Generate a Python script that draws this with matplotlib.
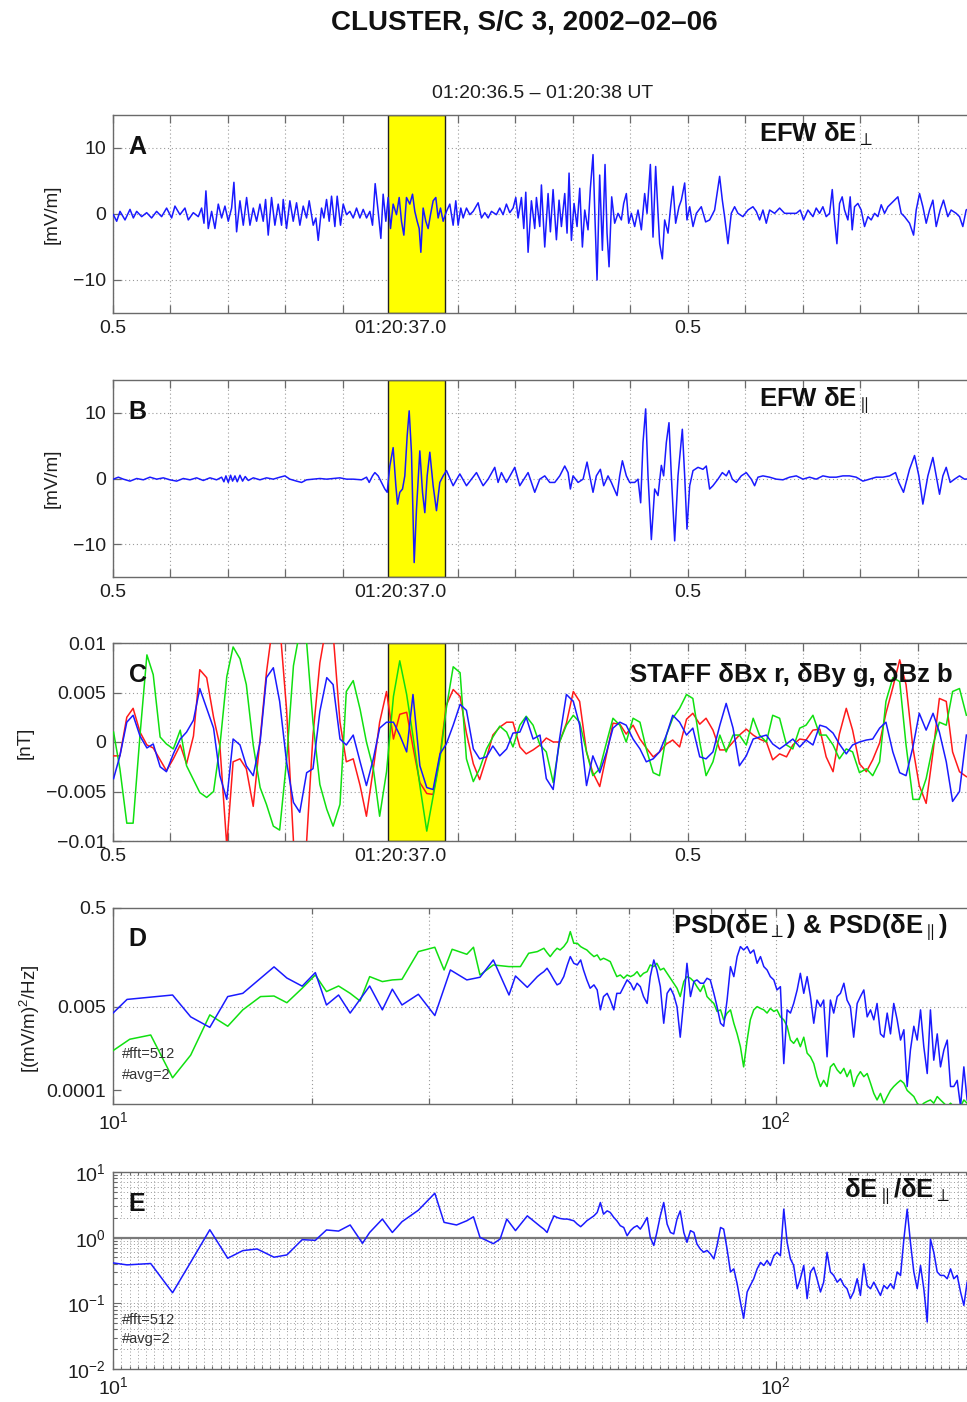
import numpy as np
import matplotlib
matplotlib.use("Agg")
import matplotlib.pyplot as plt
from matplotlib.ticker import FixedLocator, FixedFormatter, NullFormatter, NullLocator, LogLocator

plt.rcParams['font.family'] = ['Liberation Sans', 'DejaVu Sans']
plt.rcParams['mathtext.fontset'] = 'custom'
plt.rcParams['mathtext.rm'] = 'Liberation Sans'
plt.rcParams['mathtext.it'] = 'Liberation Sans:italic'
plt.rcParams['mathtext.bf'] = 'Liberation Sans:bold'
plt.rcParams['mathtext.sf'] = 'Liberation Sans'
plt.rcParams['axes.unicode_minus'] = True

# ------------------------------------------------------------------ data
# Panel A: EFW dE_perp  (time in ms after 01:20:36.5, mV/m)
eperp_ms = [0.6, 6.4, 12.2, 20.9, 29.6, 35.4, 41.2, 49.9, 58.6, 67.2,
            75.9, 84.6, 93.3, 102.0, 107.8, 116.5, 125.2, 131.0, 139.7, 148.4,
            154.2, 158.3, 161.7, 165.8, 171.6, 177.4, 183.2, 189.0, 194.8, 200.6,
            206.4, 210.4, 215.1, 220.9, 226.7, 232.5, 238.3, 244.1, 249.9, 255.7,
            261.4, 265.5, 270.1, 275.9, 281.7, 287.5, 293.3, 296.2, 302.0, 307.8,
            313.6, 319.4, 325.2, 331.0, 336.8, 341.4, 348.4, 353.0, 357.1, 362.9,
            367.0, 371.6, 376.2, 380.3, 386.1, 390.1, 395.9, 400.6, 406.4, 412.2,
            418.0, 423.8, 429.6, 435.4, 441.2, 447.0, 451.6, 456.2, 461.4, 466.1,
            470.1, 474.8, 478.8, 482.9, 487.5, 493.3, 498.0, 502.0, 506.1, 510.7,
            516.5, 521.2, 525.2, 529.3, 532.8, 535.7, 539.7, 544.3, 548.4, 552.5,
            557.1, 561.7, 565.8, 569.9, 574.5, 580.3, 586.1, 591.9, 596.5, 600.6,
            605.2, 609.3, 615.1, 620.9, 626.7, 635.4, 641.2, 647.0, 652.8, 658.6,
            667.2, 673.0, 678.8, 684.6, 690.4, 696.2, 700.9, 704.9, 710.7, 714.8,
            718.3, 722.3, 728.1, 733.9, 736.8, 742.6, 745.5, 751.3, 757.1, 761.1,
            765.8, 771.6, 776.2, 780.3, 786.1, 790.1, 793.6, 797.7, 802.3, 807.5,
            812.2, 816.8, 820.9, 826.6, 830.7, 835.3, 838.8, 842.3, 846.9, 851.6,
            856.2, 859.7, 863.2, 867.8, 873.0, 878.8, 884.6, 888.7, 893.3, 897.4,
            902.0, 907.8, 913.6, 919.4, 925.2, 929.3, 935.1, 939.7, 944.3, 948.4,
            951.3, 955.9, 960.0, 965.8, 970.4, 974.5, 979.1, 984.9, 989.0, 994.8,
            998.8, 1003.5, 1009.3, 1015.1, 1023.7, 1031.3, 1038.2, 1046.9, 1055.6, 1060.3,
            1064.3, 1070.1, 1075.9, 1081.7, 1087.5, 1096.2, 1104.9, 1113.6, 1119.4, 1125.2,
            1131.0, 1136.8, 1142.6, 1151.3, 1160.0, 1168.7, 1177.4, 1189.0, 1195.9, 1201.7,
            1209.3, 1218.0, 1223.7, 1229.5, 1235.3, 1241.1, 1246.9, 1251.6, 1255.6, 1259.7,
            1264.3, 1268.9, 1273.0, 1278.8, 1282.8, 1286.3, 1290.4, 1296.2, 1302.0, 1307.8,
            1313.6, 1319.4, 1325.2, 1331.0, 1336.8, 1342.6, 1348.4, 1354.2, 1360.0, 1365.8,
            1371.6, 1377.4, 1386.1, 1393.1, 1397.7, 1403.5, 1409.3, 1415.1, 1420.9, 1426.7,
            1432.5, 1439.4, 1445.2, 1452.7, 1458.5, 1467.2, 1473.0, 1478.8, 1484.6, 1492.0,
            1500.0]
eperp_mvm = [-0.1, -1.1, 0.4, -0.9, 0.7, -0.6, 0.4, -0.4, 0.2, -0.6,
             0.4, -0.4, 0.9, -0.6, 1.2, -0.1, 0.9, -0.9, 0.2, -0.4,
             0.9, -1.4, 3.5, -2.2, 0.4, -2.2, 1.5, -0.6, 1.2, -1.1,
             0.9, 4.8, -2.7, 2.0, -1.7, 2.5, -1.7, 0.9, -1.1, 1.5,
             -1.1, 2.2, -3.2, 2.5, -1.7, 1.5, -1.7, 2.2, -2.2, 2.0,
             -1.1, 1.7, -1.7, 1.2, -0.6, 2.0, -1.7, -0.6, -4.0, 0.9,
             -0.6, 2.2, -1.1, 2.7, -1.9, 2.7, -1.7, 1.5, -0.1, 0.4,
             -0.6, 0.9, -0.6, 0.7, -0.6, 0.4, -1.7, 4.6, 0.4, -3.7,
             3.0, -1.1, 2.5, -2.2, 1.5, -0.1, 2.5, -1.1, -3.2, 2.5,
             1.5, 3.0, 0.4, -1.1, -2.2, -5.8, 0.9, -1.1, -2.2, -0.1,
             2.0, 2.5, -0.6, 0.9, -1.1, 0.4, 1.5, -1.7, 2.0, -1.7,
             0.9, -0.6, 0.9, -0.1, 0.4, 1.7, -0.6, 0.2, -0.6, 0.4,
             -0.1, 0.9, -0.1, 1.5, 0.2, 0.9, 2.5, -0.6, 2.5, -2.2,
             3.3, -5.8, 2.0, -2.2, 2.5, -1.9, 4.4, -5.0, 3.1, -2.7,
             3.7, -3.9, 2.1, -1.9, 3.1, -2.9, 6.2, -4.0, 1.6, -1.9,
             3.9, -5.0, 0.6, -2.4, 3.9, 9.0, -0.9, -10.0, 5.9, -5.5,
             7.5, -2.9, -8.0, 2.6, -1.4, 0.1, -0.9, 1.6, 3.1, -1.4,
             0.1, -1.9, 0.6, -2.4, 3.1, 0.1, 7.5, -3.5, 7.2, 0.1,
             -4.5, -6.8, -0.9, -2.9, 1.1, 4.2, -1.4, 1.1, 2.1, 4.7,
             -0.9, 1.1, -1.9, 0.1, 1.1, -1.2, -0.9, 0.6, 5.7, 2.1,
             -0.4, -4.5, 0.1, 1.1, 0.1, -0.4, 0.6, 1.1, 0.4, -0.9,
             0.6, -1.4, 0.6, 0.1, 0.9, 0.1, 0.1, 0.1, 0.6, -0.9,
             0.6, -0.4, 0.9, 0.1, 1.1, -0.4, 0.1, 3.7, -0.9, -4.5,
             1.6, 2.6, 0.6, -0.9, 2.6, -2.4, 1.1, 1.6, 0.6, -1.9,
             -0.4, -0.9, 0.1, -0.4, 1.4, 0.1, 1.1, 1.6, 2.1, 2.6,
             0.1, -0.4, -1.4, -3.2, 0.6, 3.1, 1.1, -1.4, 0.6, 2.1,
             -1.9, 0.6, 2.1, -0.4, 0.6, 0.1, -0.4, -1.9, 0.6, 1.0,
             0.0]

# Panel B: EFW dE_parallel (ms, mV/m)
epar_ms = [0.6, 9.3, 18.0, 29.6, 41.2, 52.8, 64.3, 75.9, 87.5, 99.1,
           110.7, 122.3, 133.9, 145.5, 157.1, 168.7, 180.3, 189.0, 193.0, 196.5,
           200.6, 204.6, 208.1, 212.2, 216.2, 220.9, 225.5, 230.1, 235.4, 244.1,
           255.7, 267.2, 278.8, 290.4, 299.1, 307.8, 319.4, 328.1, 336.8, 348.4,
           360.0, 371.6, 383.2, 394.8, 406.4, 418.0, 432.5, 441.2, 445.8, 451.6,
           455.7, 461.4, 467.2, 473.0, 477.1, 481.7, 487.5, 492.2, 495.1, 499.1,
           503.8, 507.8, 511.9, 515.4, 519.4, 524.1, 528.1, 533.9, 538.6, 542.6,
           546.7, 551.3, 557.1, 562.9, 568.7, 574.5, 580.3, 591.9, 603.5, 615.1,
           632.5, 644.1, 652.8, 664.3, 670.1, 675.9, 684.6, 699.1, 707.8, 722.3,
           733.9, 742.6, 751.3, 760.0, 768.7, 777.4, 786.1, 791.9, 795.9, 800.6,
           809.3, 818.0, 824.9, 829.5, 835.3, 841.1, 848.1, 853.9, 861.4, 867.2,
           877.1, 881.7, 886.4, 893.3, 899.1, 907.8, 913.6, 918.2, 922.3, 926.9,
           931.0, 936.8, 942.6, 948.4, 954.2, 958.2, 962.9, 967.5, 971.6, 977.4,
           983.2, 990.7, 994.8, 998.8, 1003.5, 1009.3, 1018.0, 1026.6, 1032.4, 1038.2,
           1044.0, 1052.7, 1060.3, 1067.2, 1071.9, 1077.7, 1084.6, 1093.3, 1102.0, 1110.7,
           1116.5, 1122.3, 1131.0, 1142.6, 1154.2, 1165.8, 1177.4, 1189.0, 1200.6, 1212.1,
           1223.7, 1235.3, 1246.9, 1258.5, 1270.1, 1281.7, 1293.3, 1304.9, 1316.5, 1328.1,
           1339.7, 1351.3, 1361.7, 1367.5, 1375.6, 1386.1, 1394.8, 1402.3, 1409.3, 1418.0,
           1426.7, 1432.5, 1438.3, 1444.1, 1449.9, 1456.8, 1464.4, 1473.0, 1481.7, 1500.0]
epar_mvm = [-0.1, 0.2, -0.1, -0.4, 0.0, -0.2, 0.2, -0.1, 0.1, -0.2,
            -0.4, 0.0, -0.2, 0.1, -0.3, 0.1, -0.2, 0.2, -0.5, 0.4,
            -0.6, 0.5, -0.4, 0.4, -0.5, 0.5, -0.4, 0.3, -0.3, 0.1,
            -0.2, 0.1, -0.1, 0.2, 0.4, -0.1, -0.4, -0.6, -0.2, -0.1,
            0.0, -0.1, 0.0, 0.1, -0.1, -0.1, -0.2, 0.2, -0.6, 0.4,
            0.9, 0.4, -0.6, -1.6, -2.1, 1.9, 4.7, -1.1, -3.9, -2.1,
            -1.6, 0.4, 6.5, 10.3, 3.9, -12.8, -4.7, 4.2, -2.1, -5.2,
            0.4, 4.0, -1.1, -4.9, -0.6, 0.4, 1.2, -1.1, 0.7, -1.1,
            0.9, -1.1, -0.1, 1.7, -0.6, 0.9, -0.6, 1.7, -1.1, 0.9,
            -2.1, -0.1, 0.4, -0.6, -0.6, 0.4, 1.9, 0.9, -1.6, 0.4,
            -0.6, -0.1, 2.5, 0.4, -2.1, 0.4, 1.4, -1.1, 0.4, -0.6,
            -2.6, 0.4, 2.7, 0.4, -0.6, -0.6, -0.1, -3.7, 5.5, 10.6,
            0.4, -9.3, -1.6, -2.6, 2.0, 0.4, 5.5, 8.5, 0.4, -9.5,
            0.4, 7.5, 0.4, -7.7, -1.1, 1.2, 1.7, 1.4, 1.9, -1.6,
            -1.1, -0.1, 0.9, 0.4, 1.2, -0.1, -0.6, 0.4, 0.9, -0.1,
            -1.1, 0.2, 0.4, 0.2, -0.1, -0.2, 0.2, 0.4, -0.1, 0.2,
            -0.1, 0.4, 0.2, 0.2, 0.4, 0.4, 0.2, -0.4, -0.1, 0.2,
            0.2, 0.4, 0.9, -0.6, -2.1, 1.4, 3.5, 0.4, -3.9, 0.4,
            3.2, 0.4, -2.4, 0.4, 1.7, -0.6, -0.1, 0.4, -0.1, 0.0]

# Panel C: STAFF dB components (ms, pT)
staff_ms = [1, 12, 24, 35, 47, 59, 70, 82, 93, 105,
            117, 128, 140, 151, 163, 175, 186, 198, 209, 221,
            232, 244, 256, 267, 279, 290, 302, 314, 325, 337,
            348, 360, 372, 383, 395, 406, 418, 430, 441, 453,
            464, 476, 488, 499, 511, 522, 534, 546, 557, 569,
            580, 592, 604, 615, 627, 638, 650, 661, 673, 685,
            696, 708, 719, 731, 743, 754, 766, 777, 789, 801,
            812, 824, 835, 847, 859, 870, 882, 893, 905, 917,
            928, 940, 951, 963, 974, 986, 998, 1009, 1021, 1032,
            1044, 1056, 1067, 1079, 1090, 1102, 1114, 1125, 1137, 1148,
            1160, 1172, 1183, 1195, 1206, 1218, 1230, 1241, 1253, 1264,
            1276, 1287, 1299, 1311, 1322, 1334, 1345, 1357, 1369, 1380,
            1392, 1403, 1415, 1427, 1438, 1450, 1461, 1473, 1485]
dbx_pT = [-1.4, -1.4, 2.5, 3.4, 1.0, -0.3, -0.6, -1.8, -2.9, -1.7,
          -0.3, -2.2, 0.6, 7.3, 6.5, 2.5, -0.4, -10.5, -2.0, -1.7,
          -2.7, -6.5, 0.3, 7.0, 12.3, 12.0, 3.3, -10.0, -12.9, -10.0,
          0.7, 8.0, 12.0, 11.0, 2.0, -2.0, -1.7, -4.4, -7.5, -2.7,
          2.0, 5.1, 0.3, 2.8, 3.0, -0.5, -4.1, -5.2, -5.3, -1.4,
          3.7, 5.3, 4.6, 0.9, -2.2, -3.8, -1.6, 0.7, 1.5, 2.0,
          2.0, -0.5, -1.2,
          -0.8, -0.3, 0.4, 0.0, 0.0, 1.9, 5.1, 4.1, -1.0, -3.1,
          -4.5, -1.2, 1.9, 1.8, 0.8, 1.7, 0.3, -0.6, -1.5, -1.0,
          -0.2, 0.2, -0.5, 2.3, 2.9, 1.8, 2.4, 1.2, -0.8, -0.8,
          0.0, 0.7, 1.3, 0.7, 0.3, 0.0, -1.8, -1.2, -1.5, -0.3,
          0.3, 0.2, 1.2, 1.3, -1.5, -3.0, 0.8, 3.4, 1.2, -2.2,
          -3.0, -1.8, -0.1, 2.9, 5.5, 8.3, 5.8, -0.6, -4.4, -6.2,
          -1.0, 4.4, 4.1, -1.0, -3.0, -3.5]
dby_pT = [1.0, -2.7, -8.2, -8.2, 0.7, 8.8, 6.8, 0.5, -0.2, -0.7,
          1.2, -2.4, -3.8, -5.1, -5.6, -5.0, -0.4, 6.6, 9.6, 8.4,
          5.8, -0.3, -4.6, -6.3, -8.5, -8.9, -1.9, 7.7, 11.2, 10.0,
          2.0, -4.3, -6.8, -8.5, -6.3, 5.1, 6.2, 3.3, 0.0, -2.7,
          -7.5, -3.0, 4.6, 8.2, 4.8, 0.6, -4.4, -9.0, -5.5, -1.7,
          3.4, 7.6, 7.0, -1.7, -4.0, -2.7, -0.7, 0.5, 1.6, 1.0,
          -0.5, 1.7, 2.6,
          1.7, -0.3, -1.0, -4.1, 0.0, 1.7, 2.7, 2.0, -1.0, -3.4,
          -2.7, 0.0, 2.4, 1.7, 0.0, 2.4, 2.0, -0.7, -3.1, -3.4,
          0.7, 2.4, 3.4, 4.8, 4.4, 0.0, -3.4, -2.0, 0.7, -1.0,
          0.7, 0.7, -0.3, 2.4, 0.7, 0.0, 2.7, 2.4, -0.3, -0.7,
          1.4, 1.7, 2.7, 0.7, 0.7, -0.3, -1.7, -0.7, -1.0, -3.1,
          -2.7, -3.4, -2.0, 4.1, 6.5, 6.1, -0.3, -5.8, -5.8, -3.7,
          -0.3, 2.0, 1.7, 5.1, 5.4, 2.7]
dbz_pT = [-3.7, -1.4, 2.0, 2.7, 0.6, -0.6, -0.2, -2.5, -3.0, -1.2,
          0.3, 1.0, 2.2, 5.4, 3.4, 1.4, -3.4, -5.8, 0.3, -0.3,
          -2.4, -3.4, 0.0, 6.5, 7.5, 4.1, -2.0, -6.1, -7.1, -3.1,
          -2.7, 3.1, 6.5, 5.8, 0.3, -0.3, 0.7, -2.0, -4.4, -1.7,
          1.4, 2.0, 2.0, 0.7, -1.0, 4.8, -2.4, -4.6, -4.8, -1.2,
          -0.2, 1.7, 3.8, 3.2, -0.7, -1.7, -1.5, -0.4, -1.4, -0.7,
          0.9, 1.0, 2.5,
          0.3, 0.7, -3.7, -4.8, 0.3, 4.8, 4.1, 1.7, -4.4, -1.4,
          -3.1, -1.0, 1.4, 2.0, 1.7, 0.3, -0.7, -2.0, -1.7, -1.0,
          0.7, 2.7, 2.0, 0.7, 1.4, -1.5, -1.7, -1.0, 1.7, 3.9,
          1.4, -2.4, -1.4, 0.3, 0.5, 0.7, -0.2, -0.7, -0.2, 0.3,
          -0.5, 0.2, -0.3, 1.7, 1.5, 0.9, -0.2, -1.2, -0.3, 0.0,
          0.2, 0.3, 1.4, 2.0, -1.0, -3.1, -3.4, -0.5, 2.9, 1.2,
          2.9, 1.0, -2.0, -6.0, -5.0, 0.7]

# Panel D: power spectral densities ((mV/m)^2/Hz)
freq_lo_perp = [10.0, 10.5, 12.3, 13.1, 14.0, 14.9, 15.7, 17.5, 18.3, 19.3,
                20.2, 21.0, 21.9, 22.8, 24.4, 25.5, 26.4, 27.3, 28.9, 30.6,
                32.3, 34.2, 35.8, 37.5, 39.6, 40.5, 42.2]
psd_lo_perp = [0.0037, 0.0070, 0.0086, 0.0031, 0.0019, 0.0080, 0.0093, 0.032, 0.019, 0.013,
               0.0245, 0.0054, 0.0086, 0.0037, 0.0131, 0.0043, 0.0113, 0.0054, 0.0089, 0.0033,
               0.0277, 0.0174, 0.0197, 0.0442, 0.0086, 0.0209, 0.0123]
freq_lo_par = [10.0, 10.6, 11.4, 12.3, 13.1, 14.0, 14.9, 15.7, 16.7, 17.5,
               18.3, 19.3, 20.2, 21.0, 21.9, 22.8, 23.6, 24.4, 25.5, 26.4,
               27.3, 28.9, 30.6, 31.6, 32.5, 34.2, 35.0, 35.8, 37.5, 39.6,
               41.2, 42.4]
psd_lo_par = [0.00064, 0.00109, 0.00133, 0.00018, 0.00052, 0.0034, 0.0020, 0.0043, 0.0080, 0.0082,
              0.0060, 0.0118, 0.0219, 0.0101, 0.0131, 0.0093, 0.0065, 0.0203, 0.0161, 0.0174,
              0.0179, 0.0653, 0.0799, 0.0277, 0.0728, 0.0576, 0.0799, 0.0219, 0.035, 0.0324,
              0.0324, 0.0604]
freq_hi = [43.7, 44.2, 44.7, 45.2, 45.7, 46.3, 46.8, 47.3, 47.9, 48.5,
           49.0, 49.6, 50.2, 50.8, 51.3, 51.9, 52.5, 53.2, 53.8, 54.4,
           55.0, 55.7, 56.3, 57.0, 57.6, 58.3, 59.0, 59.7, 60.4, 61.1,
           61.8, 62.5, 63.2, 64.0, 64.7, 65.5, 66.2, 67.0, 67.8, 68.6,
           69.4, 70.2, 71.0, 71.8, 72.7, 73.5, 74.4, 75.3, 76.1, 77.0,
           77.9, 78.8, 79.7, 80.7, 81.6, 82.6, 83.5, 84.5, 85.5, 86.5,
           87.5, 88.5, 89.5, 90.6, 91.6, 92.7, 93.8, 94.9, 96.0, 97.1,
           98.2, 99.4, 100.5, 101.7, 102.9, 104.1, 105.3, 106.5, 107.8, 109.0,
           110.3, 111.6, 112.9, 114.2, 115.5, 116.9, 118.2, 119.6, 121.0, 122.4,
           123.9, 125.3, 126.8, 128.2, 129.7, 131.2, 132.8, 134.3, 135.9, 137.5,
           139.1, 140.7, 142.3, 144.0, 145.7, 147.4, 149.1, 150.8, 152.6, 154.4,
           156.2, 158.0, 159.8, 161.7, 163.6, 165.5, 167.4, 169.4, 171.3, 173.3,
           175.4, 177.4, 179.5, 181.6, 183.7, 185.8, 188.0, 190.2, 192.4, 194.6]
psd_hi_perp = [0.0203, 0.0230, 0.0256, 0.0300, 0.0237, 0.0174, 0.0138, 0.0149, 0.0203, 0.035,
               0.0517, 0.0378, 0.035, 0.0442, 0.0277, 0.0174, 0.0118, 0.0138, 0.0109, 0.0043,
               0.0080, 0.0093, 0.0068, 0.0043, 0.0093, 0.0093, 0.0127, 0.0174, 0.0149, 0.0109,
               0.0149, 0.0127, 0.0080, 0.0058, 0.0203, 0.0442, 0.0277, 0.0127, 0.0023, 0.0093,
               0.0118, 0.0086, 0.0050, 0.0012, 0.0068, 0.0378, 0.0080, 0.0161, 0.0174, 0.0149,
               0.0149, 0.0188, 0.0174, 0.0093, 0.0050, 0.0023, 0.0020, 0.0068, 0.0324, 0.0203,
               0.0517, 0.0824, 0.0705, 0.0824, 0.0604, 0.0705, 0.0378, 0.0517, 0.0324, 0.0277,
               0.0203, 0.0174, 0.0109, 0.0127, 0.00035, 0.0043, 0.0037, 0.0058, 0.0109, 0.0237,
               0.0093, 0.0203, 0.0080, 0.0023, 0.0068, 0.0050, 0.0068, 0.00048, 0.0068, 0.0037,
               0.0080, 0.0093, 0.0149, 0.0068, 0.0050, 0.0012, 0.0058, 0.0080, 0.0109, 0.0031,
               0.0043, 0.0027, 0.0058, 0.0014, 0.0012, 0.0037, 0.0014, 0.0058, 0.0027, 0.00105,
               0.0017, 0.00012, 0.00066, 0.0020, 0.00105, 0.0043, 0.00077, 0.00022, 0.0043, 0.00041,
               0.0014, 0.0003, 0.00066, 0.00105, 0.00012, 0.00012, 0.00016, 0.000047, 0.0003, 0.000064]
psd_hi_par = [0.0653, 0.0705, 0.0763, 0.062, 0.0517, 0.0653, 0.0763, 0.0705, 0.0824, 0.104,
              0.166, 0.0963, 0.0963, 0.0824, 0.0763, 0.0705, 0.0604, 0.0517, 0.0559, 0.0442,
              0.0478, 0.0442, 0.0409, 0.0277, 0.0203, 0.0219, 0.0188, 0.0219, 0.0203, 0.0219,
              0.0256, 0.0203, 0.0237, 0.0256, 0.035, 0.0324, 0.0378, 0.0277, 0.0300, 0.0237,
              0.0188, 0.0149, 0.0118, 0.0080, 0.0161, 0.0203, 0.0188, 0.0161, 0.0127, 0.0101,
              0.0138, 0.0080, 0.0068, 0.0058, 0.0040, 0.0043, 0.0027, 0.0037, 0.0043, 0.0023,
              0.0014, 0.00077, 0.0003, 0.00105, 0.0027, 0.0043, 0.0050, 0.0046, 0.0043, 0.0037,
              0.0046, 0.0040, 0.0043, 0.0031, 0.0027, 0.0020, 0.00105, 0.0009, 0.00114, 0.00077,
              0.0012, 0.00057, 0.00048, 0.00035, 0.00019, 0.00012, 0.00016, 0.00012, 0.0003, 0.00035,
              0.00026, 0.00022, 0.00028, 0.00019, 0.00026, 0.00012, 0.00019, 0.00024, 0.00019, 0.00022,
              0.00014, 0.000087, 0.000064, 0.000087, 0.000055, 0.000075, 0.0001, 0.00012, 0.00014, 0.00016,
              0.00014, 0.0001, 0.000087, 0.000075, 0.000055, 0.000047, 0.000055, 0.00006, 0.000064, 0.000055,
              0.000075, 0.000064, 0.000055, 0.000047, 0.000055, 0.000047, 0.00004, 0.000047, 0.000064, 0.000055]

# Panel E: ratio dE_par / dE_perp
freq_lo_ratio = [10.0, 10.5, 11.4, 12.3, 13.1, 14.0, 14.9, 15.7, 16.5, 17.5,
                 18.3, 19.3, 20.2, 21.0, 21.9, 22.8, 23.8, 24.4, 25.5, 26.4,
                 27.3, 28.9, 30.6, 31.6, 33.0, 34.2, 35.0, 35.8, 37.5, 38.4,
                 39.3, 40.5, 42.2]
ratio_lo = [0.413, 0.385, 0.404, 0.145, 0.423, 1.32, 0.486, 0.635, 0.673, 0.504,
            0.546, 0.933, 0.911, 1.31, 1.26, 1.56, 0.821, 1.20, 1.92, 1.20,
            1.75, 2.62, 4.75, 1.71, 1.56, 1.81, 2.08, 1.01, 0.811, 0.954,
            1.92, 1.28, 2.15]
ratio_hi = [1.61, 1.47, 1.35, 1.20, 1.61, 2.15, 2.03, 1.96, 1.92, 1.92,
            1.87, 1.81, 1.61, 1.47, 1.61, 1.81, 1.96, 2.15, 2.42, 3.43,
            2.28, 2.56, 2.42, 2.03, 1.81, 1.52, 1.43, 1.07, 1.28, 1.43,
            1.52, 1.35, 1.61, 2.03, 1.01, 0.76, 1.20, 2.15, 3.43, 1.61,
            1.20, 1.14, 1.92, 2.56, 1.20, 0.85, 1.28, 1.20, 0.80, 0.67,
            0.60, 0.64, 0.57, 0.475, 0.76, 1.43, 1.35, 0.67, 0.30, 0.335,
            0.199, 0.105, 0.059, 0.149, 0.187, 0.237, 0.335, 0.42, 0.377, 0.45,
            0.377, 0.53, 0.60, 0.53, 2.72, 0.85, 0.475, 0.377, 0.167, 0.237,
            0.377, 0.118, 0.30, 0.355, 0.237, 0.149, 0.21, 0.60, 0.30, 0.266,
            0.21, 0.237, 0.187, 0.167, 0.118, 0.149, 0.237, 0.132, 0.40, 0.187,
            0.167, 0.21, 0.167, 0.132, 0.187, 0.167, 0.199, 0.167, 0.30, 0.266,
            0.95, 2.72, 0.85, 0.30, 0.167, 0.377, 0.167, 0.052, 0.95, 0.60,
            0.30, 0.266, 0.266, 0.237, 0.335, 0.237, 0.266, 0.149, 0.093, 0.21]

highlight_s = (36.979, 37.078)
time_ticks_labels = {36.5: '0.5', 37.0: '01:20:37.0', 37.5: '0.5'}

# ------------------------------------------------------------------ figure
W, H = 967, 1402
fig = plt.figure(figsize=(W / 100, H / 100), dpi=100)

FRAME = '#6a6a6a'
GRID = '#9a9a9a'
TXT = '#1e1e1e'
TICK_FS = 14
LBL_FS = 18.5
BLUE = '#1a1aff'
RED = '#ff1a1a'
GREEN = '#10e010'
LW = 1.1
DOT = (0, (1, 2.5))


def add_axes_px(top, bottom):
    return fig.add_axes([113 / W, 1 - bottom / H, 862 / W, (bottom - top) / H])


def frame(ax):
    for s in ax.spines.values():
        s.set_color(FRAME)
        s.set_linewidth(1.0)
    ax.set_axisbelow(True)


def style_time(ax, ylim, yticks, ylabels):
    ax.set_xlim(36.5, 38.0)
    ax.set_ylim(*ylim)
    ticks = [round(36.5 + 0.1 * i, 1) for i in range(16)]
    labels = [time_ticks_labels.get(t, '') for t in ticks]
    ax.xaxis.set_major_locator(FixedLocator(ticks))
    ax.xaxis.set_major_formatter(FixedFormatter(labels))
    ax.yaxis.set_major_locator(FixedLocator(yticks))
    ax.yaxis.set_major_formatter(FixedFormatter(ylabels))
    ax.grid(True, which='major', ls=DOT, color=GRID, lw=0.8)
    ax.tick_params(direction='in', top=True, right=True, length=6, width=0.9,
                   color=FRAME, labelsize=TICK_FS, labelcolor=TXT, pad=5)
    frame(ax)
    ax.axvspan(*highlight_s, facecolor='#ffff00', edgecolor='#202020', lw=1.0, zorder=1)


def tsec(ms):
    return 36.5 + np.asarray(ms) / 1000.0


def panel_letter(ax, s, y=0.84):
    ax.text(0.018, y, s, transform=ax.transAxes, fontsize=18, fontweight='bold',
            color='#111111', va='center', ha='left', zorder=5)


def annot(ax, x, y, s):
    ax.text(x, y, s, transform=ax.transAxes, fontsize=LBL_FS, fontweight='bold',
            color='#111111', va='center', ha='left', zorder=5)


# ---- Panel A
axA = add_axes_px(115, 313)
style_time(axA, (-15, 15), [-10, 0, 10], ['\u221210', '0', '10'])
axA.plot(tsec(eperp_ms), eperp_mvm, color=BLUE, lw=LW, zorder=3)
panel_letter(axA, 'A')
annot(axA, 0.749, 0.9, 'EFW \u03b4E$_{\\perp}$')

# ---- Panel B
axB = add_axes_px(380, 577)
style_time(axB, (-15, 15), [-10, 0, 10], ['\u221210', '0', '10'])
axB.plot(tsec(epar_ms), epar_mvm, color=BLUE, lw=LW, zorder=3)
panel_letter(axB, 'B')
annot(axB, 0.749, 0.9, 'EFW \u03b4E$_{\\parallel}$')

# ---- Panel C
axC = add_axes_px(643, 841)
style_time(axC, (-0.01, 0.01), [-0.01, -0.005, 0, 0.005, 0.01],
           ['\u22120.01', '\u22120.005', '0', '0.005', '0.01'])
tC = tsec(staff_ms)
axC.plot(tC, np.asarray(dbx_pT) / 1000.0, color=RED, lw=LW, zorder=3)
axC.plot(tC, np.asarray(dby_pT) / 1000.0, color=GREEN, lw=LW, zorder=3)
axC.plot(tC, np.asarray(dbz_pT) / 1000.0, color=BLUE, lw=LW, zorder=3)
panel_letter(axC, 'C')
annot(axC, 0.600, 0.84, 'STAFF \u03b4Bx r, \u03b4By g, \u03b4Bz b')

# ---- Panel D
axD = add_axes_px(908, 1104)
axD.set_xscale('log')
axD.set_yscale('log')
axD.set_xlim(10, 200)
axD.set_ylim(5.3e-5, 0.5)
minor_f = [20, 30, 40, 50, 60, 70, 80, 90, 200]
axD.xaxis.set_major_locator(FixedLocator([10, 100]))
axD.xaxis.set_major_formatter(FixedFormatter(['$10^1$', '$10^2$']))
axD.xaxis.set_minor_locator(FixedLocator(minor_f))
axD.xaxis.set_minor_formatter(NullFormatter())
axD.yaxis.set_major_locator(FixedLocator([1e-4, 5e-3, 0.5]))
axD.yaxis.set_major_formatter(FixedFormatter(['0.0001', '0.005', '0.5']))
axD.yaxis.set_minor_locator(NullLocator())
axD.grid(True, axis='x', which='both', ls=DOT, color=GRID, lw=0.8)
axD.axhline(0.005, ls=DOT, color=GRID, lw=0.8, zorder=0.6)
axD.tick_params(which='both', direction='in', top=True, right=True, width=0.9,
                color=FRAME, labelsize=TICK_FS, labelcolor=TXT, pad=5)
axD.tick_params(which='major', length=6)
axD.tick_params(which='minor', length=4)
frame(axD)
axD.plot(freq_lo_par + freq_hi, psd_lo_par + psd_hi_par, color=GREEN, lw=LW, zorder=3)
axD.plot(freq_lo_perp + freq_hi, psd_lo_perp + psd_hi_perp, color=BLUE, lw=LW, zorder=3)
panel_letter(axD, 'D')
annot(axD, 0.650, 0.9, 'PSD(\u03b4E$_{\\perp}$) & PSD(\u03b4E$_{\\parallel}$)')
axD.text(0.01, 0.255, '#fft=512', transform=axD.transAxes, fontsize=10.5, color='#333333',
         va='center', ha='left', zorder=5)
axD.text(0.01, 0.15, '#avg=2', transform=axD.transAxes, fontsize=10.5, color='#333333',
         va='center', ha='left', zorder=5)

# ---- Panel E
axE = add_axes_px(1172, 1369)
axE.set_xscale('log')
axE.set_yscale('log')
axE.set_xlim(10, 200)
axE.set_ylim(1e-2, 10)
axE.xaxis.set_major_locator(FixedLocator([10, 100]))
axE.xaxis.set_major_formatter(FixedFormatter(['$10^1$', '$10^2$']))
dense_grid = 10 ** np.arange(1.0, 2.31, 0.0125)
axE.xaxis.set_minor_locator(FixedLocator(dense_grid))
axE.xaxis.set_minor_formatter(NullFormatter())
axE.yaxis.set_major_locator(FixedLocator([1e-2, 1e-1, 1, 10]))
axE.yaxis.set_major_formatter(FixedFormatter(['$10^{-2}$', '$10^{-1}$', '$10^{0}$', '$10^{1}$']))
axE.yaxis.set_minor_locator(LogLocator(base=10, subs=np.arange(2, 10)))
axE.yaxis.set_minor_formatter(NullFormatter())
axE.grid(True, which='both', ls=DOT, color=GRID, lw=0.7)
axE.tick_params(which='both', direction='in', top=True, right=True, width=0.8,
                color=FRAME, labelsize=TICK_FS, labelcolor=TXT, pad=5)
axE.tick_params(which='major', length=6)
axE.tick_params(axis='y', which='minor', length=3)
axE.tick_params(axis='x', which='minor', length=2)
frame(axE)
axE.axhspan(1.0, 1.9, facecolor='white', edgecolor='none', zorder=0.9)
axE.axhline(1.0, color='#7a7a7a', lw=1.6, zorder=1.5)
axE.plot(freq_lo_ratio + freq_hi, ratio_lo + ratio_hi, color=BLUE, lw=LW, zorder=3)
panel_letter(axE, 'E')
annot(axE, 0.848, 0.905, '\u03b4E$_{\\parallel}$/\u03b4E$_{\\perp}$')
axE.text(0.01, 0.25, '#fft=512', transform=axE.transAxes, fontsize=10.5, color='#333333',
         va='center', ha='left', zorder=5)
axE.text(0.01, 0.15, '#avg=2', transform=axE.transAxes, fontsize=10.5, color='#333333',
         va='center', ha='left', zorder=5)

# ---- titles and y labels
fig.text(524 / W, 1 - 22 / H, 'CLUSTER, S/C 3, 2002\u201302\u201306', ha='center', va='center',
         fontsize=20, fontweight='bold', color='#111111')
fig.text(543 / W, 1 - 93 / H, '01:20:36.5 \u2013 01:20:38 UT', ha='center', va='center',
         fontsize=14, color=TXT)
fig.text(52 / W, 1 - 214 / H, '[mV/m]', rotation=90, ha='center', va='center', fontsize=13.5, color=TXT)
fig.text(52 / W, 1 - 478 / H, '[mV/m]', rotation=90, ha='center', va='center', fontsize=13.5, color=TXT)
fig.text(25 / W, 1 - 743 / H, '[nT]', rotation=90, ha='center', va='center', fontsize=13.5, color=TXT)
fig.text(30 / W, 1 - 1019 / H, '[(mV/m)$^2$/Hz]', rotation=90, ha='center', va='center',
         fontsize=13.5, color=TXT)

fig.savefig('out.png', dpi=100)
